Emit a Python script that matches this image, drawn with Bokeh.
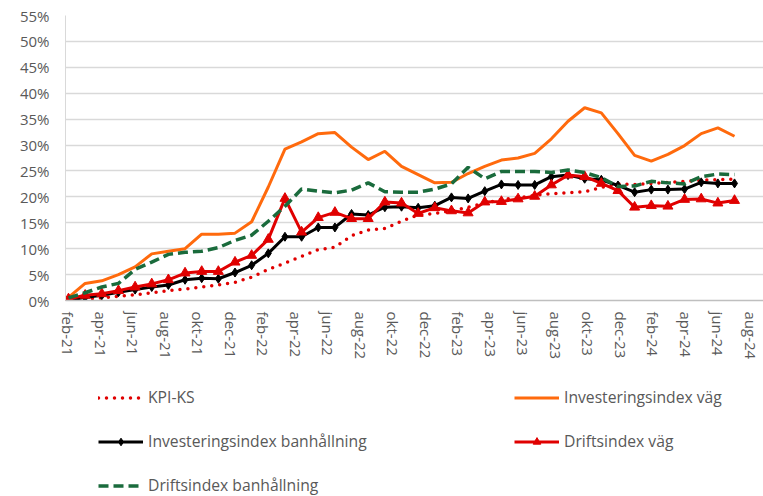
from bokeh.plotting import figure
from bokeh.layouts import column
from bokeh.models import Legend, LegendItem, FixedTicker, PrintfTickFormatter, Range1d
from bokeh.embed import file_html
from bokeh.resources import INLINE

tick_labels = ["feb-21", "apr-21", "jun-21", "aug-21", "okt-21", "dec-21",
               "feb-22", "apr-22", "jun-22", "aug-22", "okt-22", "dec-22",
               "feb-23", "apr-23", "jun-23", "aug-23", "okt-23", "dec-23",
               "feb-24", "apr-24", "jun-24", "aug-24"]

series_names = ["KPI-KS", "Investeringsindex väg", "Investeringsindex banhållning",
                "Driftsindex väg", "Driftsindex banhållning"]

kpi_ks = [0.0, 0.3, 0.5, 0.8, 1.1, 1.5, 1.9, 2.2, 2.6, 3.0, 3.5, 4.5, 6.0, 7.2,
          8.5, 9.8, 10.3, 12.5, 13.6, 13.9, 15.3, 16.5, 16.8, 17.3, 18.0, 18.8,
          19.5, 19.8, 20.3, 20.6, 20.8, 21.0, 21.8, 22.5, 22.4, 22.6, 22.8, 23.0,
          23.2, 23.3, 23.4]

inv_vag = [0.6, 3.3, 3.8, 5.0, 6.5, 9.0, 9.5, 10.0, 12.8, 12.8, 13.0, 15.2, 21.9,
           29.2, 30.6, 32.2, 32.4, 29.6, 27.2, 28.8, 25.9, 24.3, 22.7, 22.8, 24.5,
           25.9, 27.1, 27.5, 28.4, 31.2, 34.6, 37.2, 36.2, 32.2, 28.0, 26.9, 28.2,
           29.9, 32.2, 33.3, 31.7]

inv_ban = [0.0, 0.6, 1.0, 1.6, 2.1, 2.6, 3.0, 4.0, 4.3, 4.2, 5.4, 6.8, 9.1, 12.3,
           12.3, 14.1, 14.1, 16.7, 16.5, 18.0, 18.1, 17.9, 18.3, 19.9, 19.7, 21.1,
           22.4, 22.3, 22.3, 23.9, 24.2, 23.5, 23.3, 22.2, 20.9, 21.4, 21.4, 21.5,
           22.8, 22.6, 22.6]

drift_vag = [0.3, 1.0, 1.3, 1.9, 2.6, 3.2, 4.0, 5.3, 5.6, 5.6, 7.4, 8.7, 11.8,
             19.7, 13.2, 16.0, 17.0, 15.8, 15.8, 19.0, 18.8, 16.8, 17.9, 17.3,
             16.9, 19.0, 19.1, 19.6, 20.1, 22.3, 24.2, 23.9, 22.6, 21.2, 18.0,
             18.3, 18.2, 19.5, 19.6, 18.8, 19.3]

drift_ban = [0.5, 1.5, 2.6, 3.3, 6.0, 7.4, 8.9, 9.3, 9.5, 10.2, 11.6, 12.6, 15.3,
             18.2, 21.5, 21.1, 20.8, 21.3, 22.7, 21.0, 20.9, 20.9, 21.5, 22.5,
             25.7, 23.5, 24.9, 24.9, 24.9, 24.7, 25.2, 24.7, 23.7, 22.0, 22.1,
             23.0, 22.7, 22.5, 23.9, 24.4, 24.3]

x = list(range(len(kpi_ks)))
months_spanned = 41  # feb-21 .. jul-24
tick_pos = [2 * k * (len(x) - 1) / months_spanned for k in range(len(tick_labels))]

FONT = "Open Sans"
TXT = "#595959"
RED = "#E00000"
ORANGE = "#FF6A0D"
GREEN = "#1A6B3C"

styles = [
    dict(line_color=RED, line_width=3.5, line_dash="0 8", line_cap="round"),
    dict(line_color=ORANGE, line_width=3),
    dict(line_color="black", line_width=3),
    dict(line_color=RED, line_width=3),
    dict(line_color=GREEN, line_width=3.5, line_dash="10 5"),
]
markers = [None, None, dict(marker="diamond", size=9, color="black"),
           dict(marker="triangle", size=10, color=RED), None]

# ---------- main chart ----------
p_chart = figure(width=763, height=384, output_backend="svg", toolbar_location=None,
                 x_range=Range1d(-0.18, 41.74), y_range=Range1d(0, 55),
                 min_border_left=65, min_border_right=0, min_border_top=15,
                 min_border_bottom=84)
p_chart.outline_line_color = None
p_chart.xgrid.grid_line_color = None
p_chart.ygrid.grid_line_color = "#D9D9D9"
p_chart.ygrid.grid_line_width = 1.3

p_chart.yaxis.ticker = FixedTicker(ticks=list(range(0, 56, 5)))
p_chart.yaxis.formatter = PrintfTickFormatter(format="%d%%")
p_chart.yaxis.axis_line_color = "#D9D9D9"
p_chart.yaxis.major_tick_line_color = None
p_chart.yaxis.minor_tick_line_color = None
p_chart.yaxis.major_label_standoff = 10
p_chart.yaxis.major_label_text_font = FONT
p_chart.yaxis.major_label_text_font_size = "15px"
p_chart.yaxis.major_label_text_color = TXT

p_chart.xaxis.ticker = FixedTicker(ticks=tick_pos)
p_chart.xaxis.major_label_overrides = {t: l for t, l in zip(tick_pos, tick_labels)}
p_chart.xaxis.major_label_orientation = "vertical"
p_chart.xaxis.axis_line_color = "#BFBFBF"
p_chart.xaxis.axis_line_width = 1.3
p_chart.xaxis.major_tick_line_color = None
p_chart.xaxis.minor_tick_line_color = None
p_chart.xaxis.major_label_standoff = 5
p_chart.xaxis.major_label_text_font = FONT
p_chart.xaxis.major_label_text_font_size = "15px"
p_chart.xaxis.major_label_text_color = TXT

for ys, st, mk in zip([kpi_ks, inv_vag, inv_ban, drift_vag, drift_ban], styles, markers):
    p_chart.line(x, ys, **st)
    if mk:
        p_chart.scatter(x, ys, **mk)

# ---------- legend panel ----------
p_leg = figure(width=763, height=112, output_backend="svg", toolbar_location=None,
               x_range=Range1d(0, 1), y_range=Range1d(0, 1),
               x_axis_type=None, y_axis_type=None, min_border=0)
p_leg.outline_line_color = None
p_leg.xgrid.grid_line_color = None
p_leg.ygrid.grid_line_color = None

nan = float("nan")
items = []
for name, st, mk in zip(series_names, styles, markers):
    # placeholder renderers (no visible data) that only carry the legend styling
    rs = [p_leg.line([nan], [nan], **st)]
    if mk:
        rs.append(p_leg.scatter([nan], [nan], **mk))
    items.append(LegendItem(label=name, renderers=rs))

legend = Legend(items=items, location=(33, 0), orientation="horizontal", ncols=2,
                glyph_width=45, glyph_height=19, label_height=19, label_width=344,
                label_standoff=5, spacing=22, padding=0, margin=0,
                border_line_alpha=0, background_fill_alpha=0,
                label_text_font=FONT, label_text_font_size="15.7px",
                label_text_color=TXT)
p_leg.add_layout(legend, "center")

p = column(p_chart, p_leg, spacing=0)
open("out.html", "w").write(file_html(p, INLINE))
